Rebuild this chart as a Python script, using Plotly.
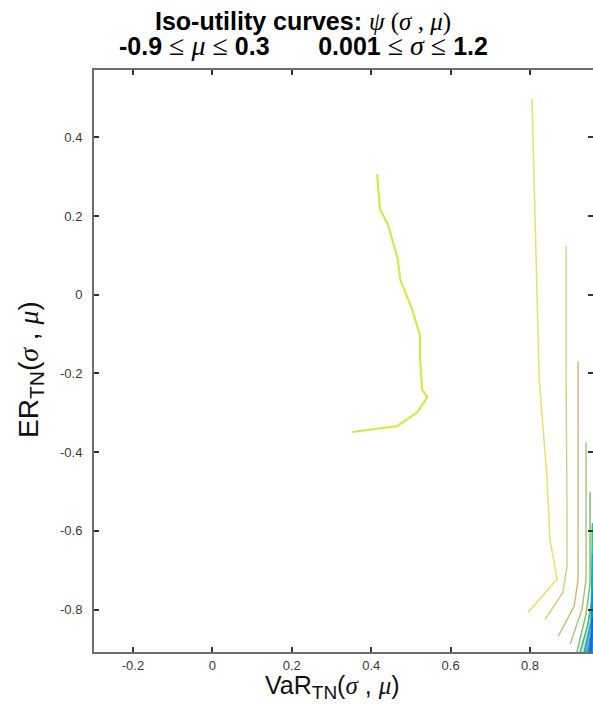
import plotly.graph_objects as go

# ---- canvas / plot-area geometry (pixels) ----
W, H = 593, 705
M_L, M_R, M_T, M_B = 94, 0, 70, 53

# ---- axis limits and ticks ----
x_range = [-0.298, 0.9585]
y_range = [-0.908, 0.571]
x_ticks = [-0.2, 0, 0.2, 0.4, 0.6, 0.8]
x_tick_text = ["-0.2", "0", "0.2", "0.4", "0.6", "0.8"]
y_ticks = [-0.8, -0.6, -0.4, -0.2, 0, 0.2, 0.4]
y_tick_text = ["-0.8", "-0.6", "-0.4", "-0.2", "0", "0.2", "0.4"]

# ---- iso-utility level curves (VaR, ER) ----
lvl0_var = [0.415, 0.422, 0.442, 0.467, 0.473, 0.503, 0.523, 0.523, 0.528, 0.541, 0.516, 0.465, 0.352]
lvl0_er = [0.306, 0.217, 0.179, 0.090, 0.039, -0.037, -0.105, -0.164, -0.240, -0.260, -0.299, -0.334, -0.349]

lvl1_var = [0.805, 0.823, 0.833, 0.843, 0.850, 0.868, 0.795]
lvl1_er = [0.497, -0.215, -0.342, -0.469, -0.621, -0.723, -0.807]

lvl2_var = [0.891, 0.891, 0.893, 0.893, 0.883, 0.838]
lvl2_er = [0.123, -0.215, -0.553, -0.690, -0.756, -0.825]

lvl3_var = [0.921, 0.921, 0.911, 0.871]
lvl3_er = [-0.169, -0.723, -0.792, -0.868]

lvl4_var = [0.941, 0.941, 0.931, 0.901]
lvl4_er = [-0.375, -0.723, -0.799, -0.888]

lvl5_var = [0.951, 0.951, 0.941, 0.918]
lvl5_er = [-0.502, -0.736, -0.812, -0.908]

lvl6_var = [0.957, 0.955, 0.945, 0.926]
lvl6_er = [-0.580, -0.780, -0.840, -0.908]

lvl7_var = [0.958, 0.954, 0.937]
lvl7_er = [-0.660, -0.830, -0.908]

lvl8_var = [0.958, 0.955, 0.946]
lvl8_er = [-0.750, -0.860, -0.908]

lvl9_var = [0.958, 0.953]
lvl9_er = [-0.820, -0.908]

curves = [
    (lvl0_var, lvl0_er, "#d8e64e", 2.2),
    (lvl1_var, lvl1_er, "#e6df74", 1.5),
    (lvl2_var, lvl2_er, "#d6c986", 1.4),
    (lvl3_var, lvl3_er, "#c9b67e", 1.4),
    (lvl4_var, lvl4_er, "#a9c07a", 1.4),
    (lvl5_var, lvl5_er, "#78c46a", 1.5),
    (lvl6_var, lvl6_er, "#45b88e", 1.6),
    (lvl7_var, lvl7_er, "#22a8b2", 1.8),
    (lvl8_var, lvl8_er, "#1a8ed8", 2.0),
    (lvl9_var, lvl9_er, "#2462d8", 2.2),
]

fig = go.Figure()

# shaded bands between the densest low-utility levels in the corner
band_fills = [(lvl6_var, lvl6_er, "rgba(90,190,160,0.35)"),
              (lvl7_var, lvl7_er, "rgba(40,160,200,0.55)"),
              (lvl8_var, lvl8_er, "rgba(30,120,215,0.75)")]
for xs, ys, col in band_fills:
    fig.add_trace(go.Scatter(x=list(xs) + [x_range[1], x_range[1]],
                             y=list(ys) + [y_range[0], ys[0]],
                             mode="none", fill="toself", fillcolor=col,
                             showlegend=False, hoverinfo="skip"))

for xs, ys, col, w in curves:
    fig.add_trace(go.Scatter(x=xs, y=ys, mode="lines",
                             line=dict(color=col, width=w),
                             showlegend=False, hoverinfo="skip"))

# empty trace that carries the right-hand tick axis
fig.add_trace(go.Scatter(x=[], y=[], yaxis="y2", showlegend=False))

AX = "#6e6e6e"
TICKFONT = dict(family="Liberation Sans, Arial, sans-serif", size=13, color="#3a3a3a")

fig.update_layout(
    width=W, height=H,
    margin=dict(l=M_L, r=M_R, t=M_T, b=M_B, pad=0),
    paper_bgcolor="white", plot_bgcolor="white",
    xaxis=dict(range=x_range, tickvals=x_ticks, ticktext=x_tick_text,
               ticks="inside", ticklen=5, tickwidth=1.5, tickcolor="#333",
               showline=True, linecolor=AX, linewidth=2, mirror="ticks",
               showgrid=False, zeroline=False, tickfont=TICKFONT),
    yaxis=dict(range=y_range, tickvals=y_ticks, ticktext=y_tick_text,
               ticks="inside", ticklen=5, tickwidth=1.5, tickcolor="#333",
               showline=True, linecolor=AX, linewidth=2, mirror=False,
               showgrid=False, zeroline=False, tickfont=TICKFONT,
               ticklabelstandoff=7),
    yaxis2=dict(range=y_range, tickvals=y_ticks, overlaying="y", side="right",
                anchor="x", ticks="inside", ticklen=5, tickwidth=1.5,
                tickcolor="#333", showline=False, showgrid=False,
                zeroline=False, showticklabels=False),
)

def px_x(p):
    return (p - M_L) / (W - M_L - M_R)

def px_y(p):
    return (H - M_B - p) / (H - M_T - M_B)

SERIF = "font-family:'Liberation Serif','Times New Roman',serif;font-weight:normal"
SERIF_BIG = SERIF + ";font-size:28px"
TITLE_FONT = dict(family="Liberation Sans, Arial, sans-serif", size=25, color="black")

title1 = ("<b>Iso-utility curves: </b>"
          f"<span style=\"{SERIF}\"><i>ψ</i> (<i>σ</i> , <i>μ</i>)</span>")
sp = "\u00a0" * 7
title2 = (f"<b>-0.9 </b><span style=\"{SERIF_BIG}\">≤ <i>μ</i> ≤</span><b> 0.3{sp}0.001 </b>"
          f"<span style=\"{SERIF_BIG}\">≤ <i>σ</i> ≤</span><b> 1.2</b>")

XLABEL_FONT = dict(family="Liberation Sans, Arial, sans-serif", size=25, color="#111")
YLABEL_FONT = dict(family="Liberation Sans, Arial, sans-serif", size=28, color="#111")
xlabel = ("VaR<sub><span style=\"font-size:19px\">TN</span></sub>"
          f"(<span style=\"{SERIF}\"><i>σ</i></span> , "
          f"<span style=\"{SERIF}\"><i>μ</i></span>)")
ylabel = ("ER<sub><span style=\"font-size:21px\">TN</span></sub>"
          f"(<span style=\"{SERIF}\"><i>σ</i></span> , "
          f"<span style=\"{SERIF}\"><i>μ</i></span>)")

fig.add_annotation(text=title1, x=px_x(303), y=px_y(21), xref="paper", yref="paper",
                   xanchor="center", yanchor="middle", showarrow=False, font=TITLE_FONT)
fig.add_annotation(text=title2, x=px_x(303), y=px_y(46), xref="paper", yref="paper",
                   xanchor="center", yanchor="middle", showarrow=False, font=TITLE_FONT)
fig.add_annotation(text=xlabel, x=px_x(332), y=px_y(687), xref="paper", yref="paper",
                   xanchor="center", yanchor="middle", showarrow=False, font=XLABEL_FONT)
fig.add_annotation(text=ylabel, x=px_x(31), y=px_y(370), xref="paper", yref="paper",
                   xanchor="center", yanchor="middle", showarrow=False, font=YLABEL_FONT,
                   textangle=-90)

fig.write_html("out.html")
